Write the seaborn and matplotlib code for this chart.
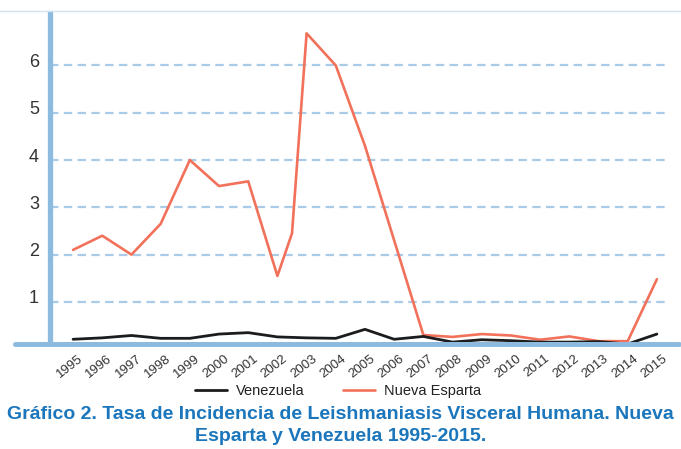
import matplotlib
matplotlib.use("Agg")
import matplotlib.pyplot as plt
import matplotlib.transforms as mtransforms
from matplotlib.lines import Line2D
import seaborn as sns
import pandas as pd

# ---- data ----
years = list(range(1995, 2016))
venezuela = [0.21, 0.24, 0.29, 0.23, 0.23, 0.32, 0.35, 0.26, 0.24, 0.23, 0.42,
             0.21, 0.27, 0.15, 0.20, 0.18, 0.15, 0.15, 0.16, 0.11, 0.32]
ne_years = [1995, 1996, 1997, 1998, 1999, 2000, 2001, 2002, 2002.5, 2003, 2004,
            2005, 2006, 2007, 2008, 2009, 2010, 2011, 2012, 2013, 2014, 2015]
nueva_esparta = [2.10, 2.40, 2.00, 2.65, 4.00, 3.45, 3.55, 1.55, 2.45, 6.68, 6.00,
                 4.30, 2.30, 0.30, 0.26, 0.32, 0.29, 0.20, 0.27, 0.17, 0.17, 1.48]
y_ticks = [1, 2, 3, 4, 5, 6]
title = "Gráfico 2. Tasa de Incidencia de Leishmaniasis Visceral Humana. Nueva\nEsparta y Venezuela 1995-2015."

df_v = pd.DataFrame({"year": years, "rate": venezuela})
df_n = pd.DataFrame({"year": ne_years, "rate": nueva_esparta})

sns.set_style("white")
plt.rcParams["font.family"] = ["Liberation Sans", "DejaVu Sans"]

BLUE = "#8dbbdf"
GRID = "#a9cbe7"
ORANGE = "#f2715a"
BLACK = "#1c1c1c"
TITLE = "#1b76bc"

W, H = 681, 449
fig = plt.figure(figsize=(W / 100, H / 100), dpi=100)
ax = fig.add_axes([50 / W, 1 - 344 / H, (668 - 50) / W, (344 - 13) / H])

sns.lineplot(data=df_v, x="year", y="rate", ax=ax, color=BLACK, lw=2.0,
             label="Venezuela", clip_on=False, zorder=4)
sns.lineplot(data=df_n, x="year", y="rate", ax=ax, color=ORANGE, lw=1.9,
             label="Nueva Esparta", clip_on=False, zorder=3)

ax.set_xlim(1994.21, 2015.38)
ax.set_ylim(0.11, 7.11)
ax.set_xlabel("")
ax.set_ylabel("")

ax.set_yticks(y_ticks)
ax.set_yticklabels([str(v) for v in y_ticks], fontsize=13, color="#333333")
ax.tick_params(axis="y", length=0, pad=8)
off = mtransforms.ScaledTranslation(0, 5 / 100, fig.dpi_scale_trans)
for lab in ax.get_yticklabels():
    lab.set_transform(lab.get_transform() + off)

ax.set_xticks(years)
ax.set_xticklabels([str(y) for y in years], rotation=38, ha="center",
                   fontsize=9.5, color="#333333")
ax.tick_params(axis="x", length=7, width=1.8, color=BLUE, pad=-1)
xoff = mtransforms.ScaledTranslation(-3 / 100, 0, fig.dpi_scale_trans)
for lab in ax.get_xticklabels():
    lab.set_transform(lab.get_transform() + xoff)
ax.get_xaxis().get_major_ticks()[0].tick1line.set_visible(False)

for y in y_ticks:
    ax.axhline(y, color=GRID, lw=1.6, ls=(0, (3.8, 2.4)), zorder=1)

for s in ["top", "right", "bottom"]:
    ax.spines[s].set_visible(False)
ax.spines["left"].set_color(BLUE)
ax.spines["left"].set_linewidth(3.8)
ax.spines["left"].set_bounds(0.2, 7.11)

# bottom axis bar and top rule
yb = 1 - 344 / H
fig.add_artist(Line2D([15 / W, 679 / W], [yb, yb], color=BLUE, lw=3.6, zorder=5))
yt = 1 - 11 / H
fig.add_artist(Line2D([0, 1], [yt, yt], color="#d3e3f2", lw=1.0))

leg = ax.legend(loc="center", bbox_to_anchor=(338 / W, 1 - 391 / H),
                bbox_transform=fig.transFigure, ncol=2, frameon=False,
                handlelength=2.2, columnspacing=2.6, handletextpad=0.6,
                prop={"size": 10.5})
for t in leg.get_texts():
    t.set_color("#222222")

fig.text(0.5, 1 - 425.5 / H, title, ha="center", va="center", color=TITLE,
         fontsize=14, fontweight="bold", linespacing=1.32)

fig.savefig("out.png", dpi=100)
